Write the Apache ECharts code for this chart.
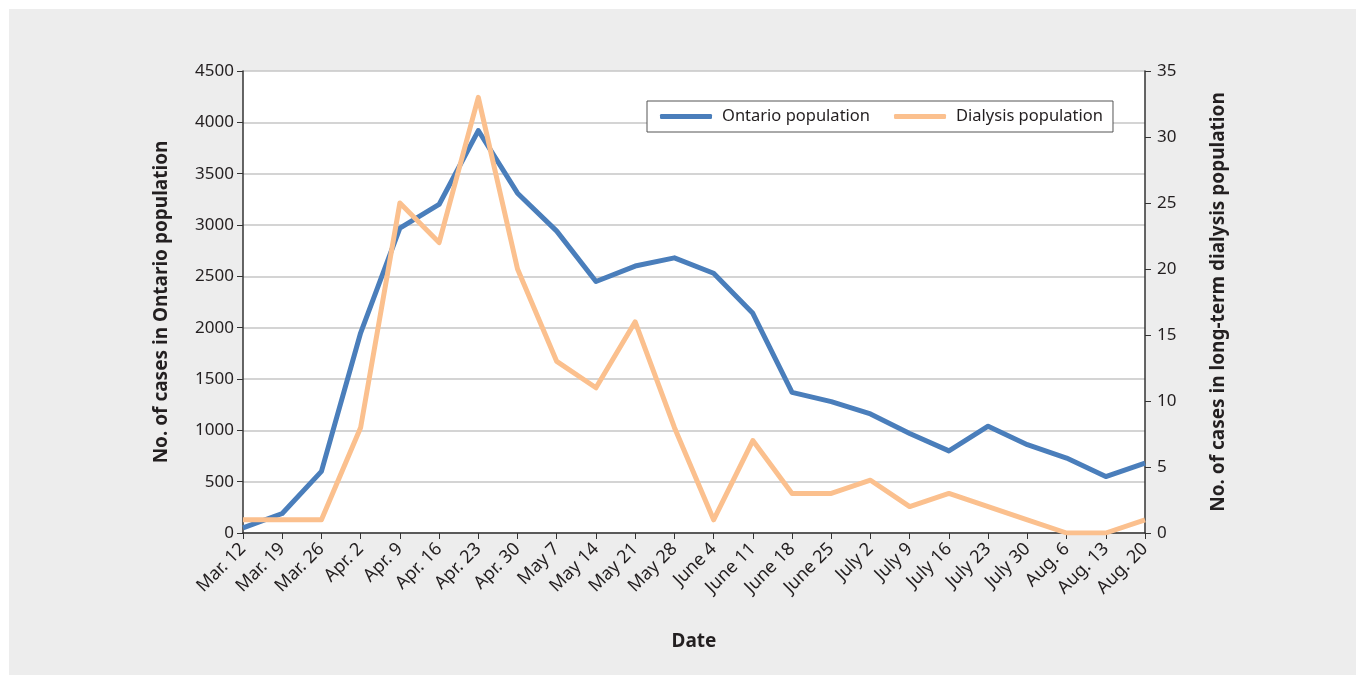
<!DOCTYPE html>
<html>
<head>
<meta charset="utf-8">
<script src="https://cdn.jsdelivr.net/npm/echarts@6/dist/echarts.min.js"></script>
<style>
  html, body { margin: 0; padding: 0; background: #fff; }
  #chart { width: 1356px; height: 675px; }
</style>
</head>
<body>
<div id="chart"></div>
<script>
const dates = ['Mar. 12', 'Mar. 19', 'Mar. 26', 'Apr. 2', 'Apr. 9', 'Apr. 16', 'Apr. 23', 'Apr. 30',
  'May 7', 'May 14', 'May 21', 'May 28', 'June 4', 'June 11', 'June 18', 'June 25',
  'July 2', 'July 9', 'July 16', 'July 23', 'July 30', 'Aug. 6', 'Aug. 13', 'Aug. 20']
const ontario = [50, 190, 600, 1950, 2970, 3200, 3920, 3310, 2940, 2450, 2600, 2680,
  2530, 2140, 1370, 1280, 1160, 970, 800, 1040, 860, 730, 550, 680]
const dialysis = [1, 1, 1, 8, 25, 22, 33, 20, 13, 11, 16, 8,
  1, 7, 3, 3, 4, 2, 3, 2, 1, 0, 0, 1]

const font = 'Noto Sans'
const ink = '#231f20'

const chart = echarts.init(document.getElementById('chart'))
chart.setOption({
  backgroundColor: 'transparent',
  textStyle: { fontFamily: font, color: ink },
  graphic: [{
    type: 'rect', z: -10, silent: true,
    shape: { x: 9, y: 9, width: 1347, height: 666 },
    style: { fill: '#ededed' }
  }],
  grid: { left: 243, right: 211, top: 71, bottom: 142, show: true, backgroundColor: '#fff', borderWidth: 0 },
  legend: {
    left: 647, top: 101,
    padding: [7, 10, 7, 13],
    itemGap: 24,
    itemWidth: 52, itemHeight: 5,
    backgroundColor: '#fff',
    borderColor: '#555', borderWidth: 1,
    textStyle: { fontFamily: font, fontSize: 16.5, color: ink, padding: [0, 0, 0, 5] },
    data: [
      { name: 'Ontario population', icon: 'roundRect' },
      { name: 'Dialysis population', icon: 'roundRect' }
    ]
  },
  xAxis: {
    type: 'category',
    data: dates,
    boundaryGap: false,
    name: 'Date',
    nameLocation: 'middle',
    nameGap: 99,
    nameTextStyle: { fontFamily: font, fontSize: 19, fontWeight: 'bold', color: ink },
    axisLine: { lineStyle: { color: '#333', width: 1.5 } },
    axisTick: { show: true, length: 6, lineStyle: { color: '#333' } },
    axisLabel: { rotate: 45, interval: 0, fontSize: 18, color: ink, margin: 13 }
  },
  yAxis: [
    {
      type: 'value', min: 0, max: 4500, interval: 500,
      name: 'No. of cases in Ontario population',
      nameLocation: 'middle', nameRotate: 90, nameGap: 72,
      nameTextStyle: { fontFamily: font, fontSize: 19, fontWeight: 'bold', color: ink },
      axisLine: { show: true, lineStyle: { color: '#333', width: 1.5 } },
      axisTick: { show: true, length: 6, lineStyle: { color: '#333' } },
      axisLabel: { fontSize: 17, color: ink, margin: 9, formatter: v => String(v) },
      splitLine: { lineStyle: { color: '#c6c6c6', width: 1.5 } }
    },
    {
      type: 'value', min: 0, max: 35, interval: 5, position: 'right',
      name: 'No. of cases in long-term dialysis population',
      nameLocation: 'middle', nameRotate: 90, nameGap: 64,
      nameTextStyle: { fontFamily: font, fontSize: 19, fontWeight: 'bold', color: ink },
      axisLine: { show: true, lineStyle: { color: '#333', width: 1.5 } },
      axisTick: { show: true, length: 6, lineStyle: { color: '#333' } },
      axisLabel: { fontSize: 17, color: ink, margin: 12 },
      splitLine: { show: false }
    }
  ],
  series: [
    {
      name: 'Ontario population', type: 'line', yAxisIndex: 0,
      data: ontario, showSymbol: false, color: '#4a7ebb',
      lineStyle: { width: 5, join: 'round' }
    },
    {
      name: 'Dialysis population', type: 'line', yAxisIndex: 1,
      data: dialysis, showSymbol: false, color: '#fbc08e',
      lineStyle: { width: 5, join: 'round' }
    }
  ]
})
</script>
</body>
</html>
